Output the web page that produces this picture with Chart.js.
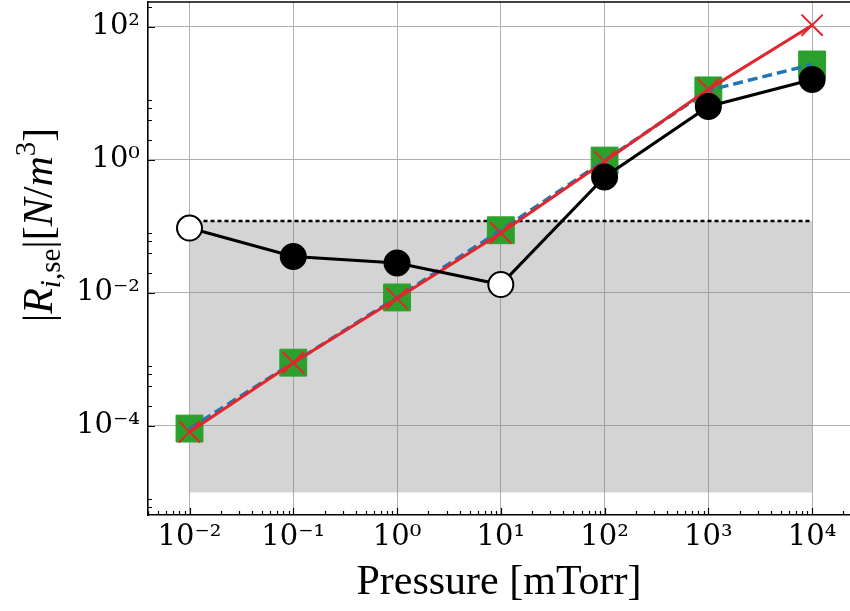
<!DOCTYPE html>
<html>
<head>
<meta charset="utf-8">
<script src="https://cdn.jsdelivr.net/npm/chart.js@4.4.1/dist/chart.umd.min.js"></script>
<style>
  html, body { margin: 0; padding: 0; background: #fff; }
</style>
</head>
<body>
<canvas id="chart" width="850" height="611"></canvas>
<script>
// --- data ---
const pressure = [1e-2, 1e-1, 1e0, 1e1, 1e2, 1e3, 1e4]; // mTorr

// black circles (open markers where flagged)
const simulated = [0.094, 0.035, 0.028, 0.0133, 0.55, 6.3, 16];
const simulatedOpen = [true, false, false, true, false, false, false];
// blue dashed line with green squares
const modelDashed = [9.1e-5, 8.9e-4, 8.5e-3, 0.087, 0.97, 11, 27];
// red line with x markers
const modelRed = [8.1e-5, 8.9e-4, 8.2e-3, 0.079, 0.94, 11.4, 105];

// shaded band + dotted upper bound
const bandX = [1e-2, 1e4];
const bandTop = 0.12;
const bandBottom = 1e-5;

// axis ticks (exponents of 10)
const xMajorExp = [-2, -1, 0, 1, 2, 3, 4];
const xMinorExp = [-3, -2, -1, 0, 1, 2, 3, 4];
const xMinorSubs = [2, 3, 4, 5, 6, 7, 8, 9];
const yMajorExp = [-4, -2, 0, 2];
const yMinorExp = [-6, -4, -2, 0, 2];
const yMinorSubs = [2, 4, 6, 8];

const xTitle = 'Pressure [mTorr]';

// --- helpers ---
const SUP = { '-': '\u207B', '0': '\u2070', '1': '\u00B9', '2': '\u00B2', '3': '\u00B3',
  '4': '\u2074', '5': '\u2075', '6': '\u2076', '7': '\u2077', '8': '\u2078', '9': '\u2079' };
const pow10Label = e => '10' + String(e).split('').map(c => SUP[c]).join('');
const isDecade = v => Math.abs(Math.log10(v) - Math.round(Math.log10(v))) < 1e-6;
const toPts = ys => pressure.map((p, i) => ({ x: p, y: ys[i] }));

function tickList(majorExp, minorExp, subs) {
  const out = majorExp.map(e => Math.pow(10, e));
  minorExp.forEach(e => subs.forEach(k => out.push(k * Math.pow(10, e))));
  return out.sort((a, b) => a - b);
}
const xTickValues = tickList(xMajorExp, xMinorExp, xMinorSubs);
const yTickValues = tickList(yMajorExp, yMinorExp, yMinorSubs);

const gridColor = '#b0b0b0';
const tickFont = { family: '"DejaVu Serif", serif', size: 29 };

// inward tick marks + top spine
const tickMarks = {
  id: 'tickMarks',
  afterDatasetsDraw(chart) {
    const { ctx, chartArea: a, scales: { x, y } } = chart;
    ctx.save();
    ctx.strokeStyle = '#000';
    ctx.lineWidth = 1.2;
    ctx.beginPath();
    x.ticks.forEach(t => {
      const px = Math.round(x.getPixelForValue(t.value)) + 0.5;
      const len = isDecade(t.value) ? 7 : 4;
      ctx.moveTo(px, a.bottom);
      ctx.lineTo(px, a.bottom - len);
    });
    y.ticks.forEach(t => {
      const py = Math.round(y.getPixelForValue(t.value)) + 0.5;
      const len = isDecade(t.value) ? 7 : 4;
      ctx.moveTo(a.left, py);
      ctx.lineTo(a.left + len, py);
    });
    ctx.stroke();
    ctx.lineWidth = 1.6;
    ctx.beginPath();
    ctx.moveTo(a.left, a.top);
    ctx.lineTo(a.right, a.top);
    ctx.stroke();
    ctx.restore();
  }
};

// y title with italic letters, subscript and superscript
const yTitleParts = [
  { t: '|', it: false, s: 0 },
  { t: 'R', it: true, s: 0 },
  { t: 'i', it: true, s: -1 },
  { t: ',se', it: false, s: -1 },
  { t: '|[', it: false, s: 0 },
  { t: 'N', it: true, s: 0 },
  { t: '/', it: false, s: 0 },
  { t: 'm', it: true, s: 0 },
  { t: '3', it: false, s: 1 },
  { t: ']', it: false, s: 0 }
];
const yTitle = {
  id: 'yTitle',
  afterDraw(chart) {
    const ctx = chart.ctx;
    const big = 42, small = 29;
    const font = p => (p.it ? 'italic ' : '') + (p.s ? small : big) + 'px "Liberation Serif", serif';
    ctx.save();
    let total = 0;
    yTitleParts.forEach(p => { ctx.font = font(p); p.w = ctx.measureText(p.t).width; total += p.w; });
    ctx.translate(52, 225);
    ctx.rotate(-Math.PI / 2);
    ctx.fillStyle = '#000';
    ctx.textBaseline = 'alphabetic';
    let cx = -total / 2;
    yTitleParts.forEach(p => {
      ctx.font = font(p);
      const dy = p.s < 0 ? 8 : (p.s > 0 ? -17 : 0);
      ctx.fillText(p.t, cx, dy);
      cx += p.w;
    });
    ctx.restore();
  }
};

new Chart(document.getElementById('chart'), {
  type: 'line',
  data: {
    datasets: [
      {
        data: toPts(simulated),
        borderColor: '#000',
        borderWidth: 3,
        pointRadius: 12.5,
        pointBorderWidth: 2,
        pointBorderColor: '#000',
        pointBackgroundColor: simulatedOpen.map(o => o ? '#fff' : '#000')
      },
      {
        data: toPts(modelRed),
        borderColor: '#e3262b',
        borderWidth: 3,
        pointStyle: 'crossRot',
        pointRadius: 15,
        pointBorderWidth: 2,
        pointBorderColor: '#e3262b'
      },
      {
        data: toPts(modelDashed),
        borderColor: '#1f77b4',
        borderWidth: 3.5,
        borderDash: [10, 5],
        pointRadius: 0
      },
      {
        data: toPts(modelDashed),
        showLine: false,
        pointStyle: 'rect',
        pointRadius: 19,
        pointBackgroundColor: '#2ca02c',
        pointBorderColor: '#2ca02c',
        pointBorderWidth: 1
      },
      {
        data: bandX.map(v => ({ x: v, y: bandTop })),
        borderColor: '#000',
        borderWidth: 2.5,
        borderDash: [4, 3],
        pointRadius: 0,
        backgroundColor: 'rgba(128,128,128,0.34)',
        fill: { value: bandBottom }
      }
    ]
  },
  options: {
    responsive: false,
    animation: false,
    devicePixelRatio: 1,
    layout: { autoPadding: false, padding: { top: 2, right: 0, left: 0, bottom: 0 } },
    plugins: { legend: { display: false }, tooltip: { enabled: false } },
    scales: {
      x: {
        type: 'logarithmic',
        min: Math.pow(10, -2.40),
        max: Math.pow(10, 4.365),
        afterBuildTicks: s => {
          s.ticks = xTickValues.filter(v => v >= s.min && v <= s.max).map(v => ({ value: v }));
        },
        afterFit: s => { s.height = 96; s.paddingLeft = 0; s.paddingRight = 0; },
        border: { color: '#000', width: 1.6 },
        grid: {
          drawTicks: false,
          lineWidth: 1,
          color: c => (c.tick && isDecade(c.tick.value)) ? gridColor : 'rgba(0,0,0,0)'
        },
        ticks: {
          autoSkip: false,
          maxRotation: 0,
          padding: 5,
          color: '#000',
          font: tickFont,
          callback: v => isDecade(v) ? pow10Label(Math.round(Math.log10(v))) : ''
        },
        title: {
          display: true,
          text: xTitle,
          color: '#000',
          font: { family: '"Liberation Serif", serif', size: 42, lineHeight: 1 },
          padding: { top: 0, bottom: 7 }
        }
      },
      y: {
        type: 'logarithmic',
        min: Math.pow(10, -5.34),
        max: Math.pow(10, 2.37),
        afterBuildTicks: s => {
          s.ticks = yTickValues.filter(v => v >= s.min && v <= s.max).map(v => ({ value: v }));
        },
        afterFit: s => { s.width = 148; s.paddingTop = 0; s.paddingBottom = 0; },
        border: { color: '#000', width: 1.6 },
        grid: {
          drawTicks: false,
          lineWidth: 1,
          color: c => (c.tick && isDecade(c.tick.value)) ? gridColor : 'rgba(0,0,0,0)'
        },
        ticks: {
          autoSkip: false,
          padding: 8,
          color: '#000',
          font: tickFont,
          callback: v => isDecade(v) ? pow10Label(Math.round(Math.log10(v))) : ''
        }
      }
    }
  },
  plugins: [tickMarks, yTitle]
});
</script>
</body>
</html>
